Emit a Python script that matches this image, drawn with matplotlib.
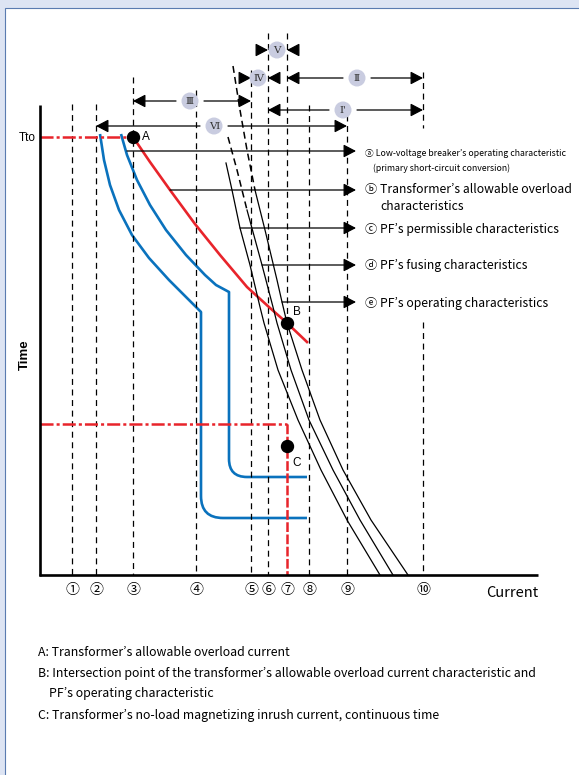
import matplotlib
matplotlib.use("Agg")
import matplotlib.pyplot as plt
from matplotlib.patches import Circle, Rectangle, PathPatch
from matplotlib.path import Path

plt.rcParams['lines.scale_dashes'] = False
plt.rcParams['font.family'] = ['Noto Sans CJK JP', 'DejaVu Sans']

# sheet is drawn in pixel units: x = current (left->right), y = time (top->bottom)
# reference current lines (1)..(10)
mark_labels = ['①', '②', '③', '④', '⑤', '⑥', '⑦', '⑧', '⑨', '⑩']
mark_x = [72, 96, 133, 196, 251, 268, 287, 309, 347, 423]
mark_spans = [[(104, 575)], [(104, 575)], [(77, 575)], [(90, 575)], [(70, 575)],
              [(33, 575)], [(33, 424)], [(105, 575)], [(115, 575)], [(72, 128), (322, 575)]]

# ranges at the top
roman = ['Ⅴ', 'Ⅳ', 'Ⅱ', 'Ⅲ', "Ⅰ'", 'Ⅵ']
roman_x = [277, 258, 357, 190, 343, 214]
roman_y = [50, 78, 78, 101, 110, 126]
span_left = [268, 251, 287, 133, 268, 96]
span_right = [287, 268, 423, 251, 423, 347]
inward = [True, True, False, False, False, False]

# a: low-voltage breaker curves (blue)
blue1_x = [100, 104, 110, 119, 132, 149, 169, 186, 201]
blue1_y = [134, 160, 185, 210, 235, 258, 280, 297, 312]
blue1_step = [(201, 496), (201, 518), (223, 518), (307, 518)]
blue2_x = [121, 127, 137, 150, 166, 186, 205, 216, 229]
blue2_y = [134, 155, 180, 205, 230, 255, 275, 285, 292]
blue2_step = [(229, 459), (229, 477), (247, 477), (307, 477)]

# b: transformer allowable overload (red)
red_x = [133, 150, 170, 195, 220, 247, 270, 287, 307]
red_y = [137, 162, 190, 224, 255, 287, 308, 323, 342]

# c, d, e: PF characteristics (black); first n points are dashed
pf_perm_x = [226, 232, 240, 250, 260, 264, 278, 298, 321, 347, 380]
pf_perm_y = [163, 190, 228, 265, 307, 323, 370, 420, 470, 520, 575]
pf_fuse_x = [228, 237, 247, 262, 273, 277, 291, 309, 333, 360, 393]
pf_fuse_y = [137, 170, 210, 265, 307, 323, 370, 420, 470, 520, 575]
pf_oper_x = [233, 240, 247, 255, 265, 277, 282, 287, 302, 320, 343, 371, 408]
pf_oper_y = [66, 110, 150, 190, 230, 280, 302, 323, 370, 420, 470, 520, 575]
pf_dashed_n = [0, 3, 4]

pointer_labels = ['ⓐ Low-voltage breaker\u2019s operating characteristic',
                  'ⓑ Transformer\u2019s allowable overload',
                  'ⓒ PF\u2019s permissible characteristics',
                  'ⓓ PF\u2019s fusing characteristics',
                  'ⓔ PF\u2019s operating characteristics']
pointer_x0 = [127, 170, 240, 262, 282]
pointer_y = [151, 190, 228, 265, 302]

points = ['A', 'B', 'C']
points_x = [133, 287, 287]
points_y = [137, 323, 446]

tto_y = 137
inrush_y = 424

notes = ['A: Transformer\u2019s allowable overload current',
         'B: Intersection point of the transformer\u2019s allowable overload current characteristic and',
         '    PF\u2019s operating characteristic',
         'C: Transformer\u2019s no-load magnetizing inrush current, continuous time']
notes_y = [652, 674, 693, 716]

BLUE = '#0a72bd'
RED = '#e8242b'

fig = plt.figure(figsize=(5.79, 7.75), dpi=100, facecolor='#dde4f3')
ax = fig.add_axes([0, 0, 1, 1])
ax.set_xlim(0, 579)
ax.set_ylim(775, 0)
ax.axis('off')

ax.add_patch(Rectangle((4.5, 7.5), 580, 770, facecolor='white', edgecolor='#5a7bb0', lw=0.8))

dash = (4.3, 3.3)

# reference lines
for x, spans in zip(mark_x, mark_spans):
    for y0, y1 in spans:
        ax.plot([x, x], [y0, y1], color='black', lw=0.9, dashes=dash)
for lab, x in zip(mark_labels, mark_x):
    ax.text(x, 590, lab, ha='center', va='center', fontsize=10)

# red inrush / Tto lines
ax.plot([40, 133], [tto_y, tto_y], color=RED, lw=1.8, dashes=(9.4, 2.2, 2.2, 2.2))
ax.plot([40, 287], [inrush_y, inrush_y], color=RED, lw=1.8, dashes=(9.4, 2.2, 2.2, 2.2))
ax.plot([287, 287], [inrush_y, 575], color=RED, lw=1.8, dashes=(7, 1.8))


def arrow(x0, y0, x1, y1):
    ax.annotate('', xy=(x1, y1), xytext=(x0, y0),
                arrowprops=dict(arrowstyle='-|>,head_length=0.42,head_width=0.22',
                                color='black', lw=0.9, shrinkA=0, shrinkB=0,
                                mutation_scale=18))


# top ranges
for lab, lx, ly, l, r, inw in zip(roman, roman_x, roman_y, span_left, span_right, inward):
    if inw:
        arrow(l - 11, ly, l, ly)
        arrow(r + 11, ly, r, ly)
    else:
        arrow(lx - 14, ly, l, ly)
        arrow(lx + 14, ly, r, ly)
    ax.add_patch(Circle((lx, ly), 8.5, facecolor='#c9cce0', edgecolor='none', zorder=3))
    ax.text(lx, ly + 0.5, lab, ha='center', va='center', fontsize=7.5, zorder=4,
            family=['DejaVu Serif', 'Noto Sans CJK JP'], color='#333333')

# blue breaker curves
for xs, ys, step in [(blue1_x, blue1_y, blue1_step), (blue2_x, blue2_y, blue2_step)]:
    verts = list(zip(xs, ys)) + step
    codes = [Path.MOVETO] + [Path.LINETO] * (len(xs) - 1) + \
            [Path.LINETO, Path.CURVE3, Path.CURVE3, Path.LINETO]
    ax.add_patch(PathPatch(Path(verts, codes), facecolor='none', edgecolor=BLUE, lw=1.9,
                           capstyle='butt', joinstyle='round'))

# red transformer overload curve
ax.plot(red_x, red_y, color=RED, lw=1.9, solid_joinstyle='round')

# PF curves
for xs, ys, n in [(pf_perm_x, pf_perm_y, pf_dashed_n[0]),
                  (pf_fuse_x, pf_fuse_y, pf_dashed_n[1]),
                  (pf_oper_x, pf_oper_y, pf_dashed_n[2])]:
    if n:
        ax.plot(xs[:n], ys[:n], color='black', lw=1.1, dashes=(5, 3))
    ax.plot(xs[max(n - 1, 0):], ys[max(n - 1, 0):], color='black', lw=0.9)

# pointers to labels
for lab, x0, y in zip(pointer_labels, pointer_x0, pointer_y):
    arrow(x0, y, 356, y)
ax.text(365, 153, pointer_labels[0], ha='left', va='center', fontsize=6.3)
ax.text(373, 168, '(primary short-circuit conversion)', ha='left', va='center', fontsize=6.3)
ax.text(365, 190, pointer_labels[1], ha='left', va='center', fontsize=8.8)
ax.text(380, 207, 'characteristics', ha='left', va='center', fontsize=8.8)
for lab, y in zip(pointer_labels[2:], pointer_y[2:]):
    ax.text(365, y + 1, lab, ha='left', va='center', fontsize=8.8)

# points
ax.plot(points_x, points_y, 'o', color='black', ms=8.6, zorder=5)
for lab, x, y, dx, dy in zip(points, points_x, points_y, [13, 10, 10], [0, -11, 17]):
    ax.text(x + dx, y + dy, lab, ha='center', va='center', fontsize=8.5,
            family=['Liberation Sans', 'DejaVu Sans'])

# axes
ax.plot([40, 40], [105, 576], color='black', lw=1.9, solid_capstyle='butt')
ax.plot([39, 538], [575, 575], color='black', lw=1.9, solid_capstyle='butt')
ax.text(27, 138, 'Tto', ha='center', va='center', fontsize=8.5,
        family=['Liberation Sans', 'DejaVu Sans'])
ax.text(25, 355, 'Time', ha='center', va='center', rotation=90, fontsize=9.5,
        fontweight='bold', family=['Liberation Sans', 'DejaVu Sans'])
ax.text(538, 593, 'Current', ha='right', va='center', fontsize=10.5)

for t, y in zip(notes, notes_y):
    ax.text(38, y, t, ha='left', va='center', fontsize=8.9)

fig.savefig('out.png', dpi=100, facecolor=fig.get_facecolor())
